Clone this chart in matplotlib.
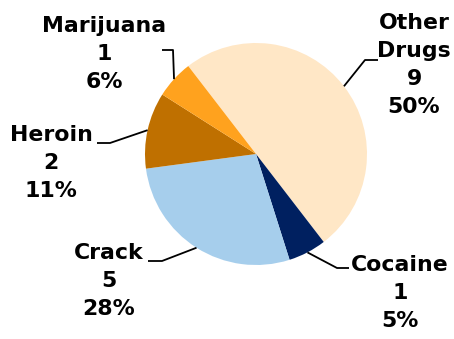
import numpy as np
import matplotlib
matplotlib.use("Agg")
import matplotlib.pyplot as plt

# Drug categories, counts and the shares printed next to each slice
categories = ["Other\nDrugs", "Cocaine", "Crack", "Heroin", "Marijuana"]
counts = [9, 1, 5, 2, 1]
shares = ["50%", "5%", "28%", "11%", "6%"]
colors = ["#FFE7C6", "#002060", "#A6CEEC", "#BF7000", "#FFA21E"]

W, H = 454, 339
fig = plt.figure(figsize=(W / 100, H / 100), dpi=100)
ax = fig.add_axes([0, 0, 1, 1])

cx, cy, r = 256, H - 154, 111
wedges, _ = ax.pie(counts, colors=colors, startangle=127.6, counterclock=False,
                   center=(cx, cy), radius=r, frame=True,
                   wedgeprops=dict(linewidth=0))
ax.set_xlim(0, W)
ax.set_ylim(0, H)
ax.set_aspect("equal")
ax.axis("off")

# label block centres and leader-line elbows (pixel layout, y measured from top)
label_pos = [(414, 65), (400, 293), (109, 281), (51, 163), (104, 54)]
elbows = [[(365, 60), (378, 60)],
          [(337, 268), (349, 268)],
          [(162, 261), (148, 261)],
          [(110, 143), (97, 143)],
          [(173, 50), (162, 50)]]

for w, name, n, pct, (lx, ly), elb in zip(wedges, categories, counts, shares,
                                          label_pos, elbows):
    mid = np.deg2rad((w.theta1 + w.theta2) / 2)
    px, py = cx + r * np.cos(mid), cy + r * np.sin(mid)
    xs = [px] + [e[0] for e in elb]
    ys = [py] + [H - e[1] for e in elb]
    ax.plot(xs, ys, color="black", lw=1.3, solid_capstyle="butt")
    ax.text(lx, H - ly, f"{name}\n{n}\n{pct}", ha="center", va="center",
            fontsize=15.8, fontweight="bold", family="DejaVu Sans",
            linespacing=1.5, color="black")

fig.savefig("out.png", dpi=100)
